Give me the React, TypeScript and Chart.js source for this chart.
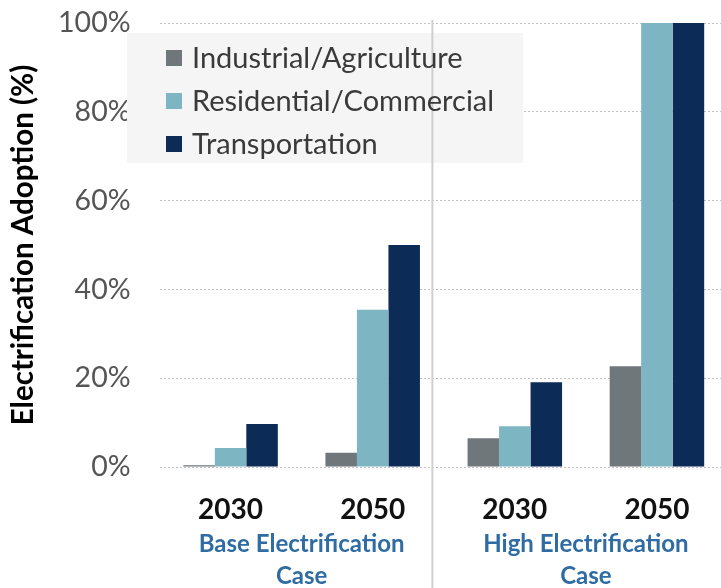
import React, { useEffect, useRef } from "react";
import { Chart, registerables } from "chart.js";

Chart.register(...registerables);

// ---- data ----
const categories = ["2030", "2050", "2030", "2050"];
const groupLabels = [
  ["Base Electrification", "Case"],
  ["High Electrification", "Case"],
];
const seriesNames = ["Industrial/Agriculture", "Residential/Commercial", "Transportation"];
const industrial = [0.4, 3.2, 6.5, 22.7];
const residential = [4.3, 35.4, 9.2, 100];
const transportation = [9.7, 50, 19.1, 100];
const yTickValues = [0, 20, 40, 60, 80, 100];
const separatorAt = 1.42; // category-axis position of the divider between the two cases

const colors = ["#6f777b", "#7db5c2", "#0c2b56"];
const FONT = "Lato, 'Open Sans', sans-serif";

const decorPlugin = {
  id: "decor",
  beforeDatasetsDraw(chart: any) {
    const { ctx, scales } = chart;
    // legend background
    ctx.save();
    ctx.fillStyle = "#f5f5f5";
    ctx.fillRect(127, 33, 396, 130);
    // separator
    const x = scales.x.getPixelForValue(separatorAt);
    ctx.strokeStyle = "#cfcfcf";
    ctx.lineWidth = 2;
    ctx.beginPath();
    ctx.moveTo(x, 20);
    ctx.lineTo(x, chart.height);
    ctx.stroke();
    ctx.restore();
  },
  afterDatasetsDraw(chart: any) {
    const { ctx, scales } = chart;
    ctx.save();
    // legend entries
    ctx.font = `29px ${FONT}`;
    ctx.textBaseline = "middle";
    ctx.textAlign = "left";
    chart.data.datasets.forEach((ds: any, i: number) => {
      const cy = 58 + i * 43;
      ctx.fillStyle = ds.backgroundColor;
      ctx.fillRect(166, cy - 8, 16, 16);
      ctx.fillStyle = "#3a3a3a";
      ctx.fillText(ds.label, 192, cy + 1);
    });
    // group labels
    ctx.font = `bold 24px ${FONT}`;
    ctx.fillStyle = "#2f6ca3";
    ctx.textAlign = "center";
    groupLabels.forEach((lines, g) => {
      const x0 = scales.x.getPixelForValue(g * 2);
      const x1 = scales.x.getPixelForValue(g * 2 + 1);
      const cx = (x0 + x1) / 2;
      lines.forEach((line, j) => {
        ctx.fillText(line, cx, 544 + j * 32);
      });
    });
    ctx.restore();
  },
};

export default function App() {
  const ref = useRef<HTMLCanvasElement | null>(null);
  useEffect(() => {
    if (!ref.current) return;
    const datasets = [industrial, residential, transportation].map((d, i) => ({
      label: seriesNames[i],
      data: d,
      backgroundColor: colors[i],
      borderWidth: 0,
      categoryPercentage: 0.665,
      barPercentage: 1.0,
    }));
    const chart = new Chart(ref.current, {
      type: "bar",
      data: { labels: categories, datasets },
      options: {
        animation: false,
        responsive: false,
        devicePixelRatio: 1,
        layout: { padding: { top: 23, right: 0, left: 0, bottom: 0 } },
        plugins: { legend: { display: false }, tooltip: { enabled: false } },
        scales: {
          x: {
            grid: { display: false, drawTicks: false },
            border: { display: false },
            ticks: {
              color: "#111",
              font: { family: FONT, size: 28, weight: "bold" },
              padding: 26,
            },
            afterFit: (s: any) => {
              s.height = 121;
              s.paddingLeft = 0;
              s.paddingRight = 0;
            },
          },
          y: {
            min: 0,
            max: 100,
            afterBuildTicks: (s: any) => {
              s.ticks = yTickValues.map((v) => ({ value: v }));
            },
            grid: {
              color: "#c2c2c2",
              lineWidth: 1,
              drawTicks: false,
            },
            border: { display: false, dash: [2, 2] },
            ticks: {
              color: "#555",
              font: { family: FONT, size: 28.5 },
              padding: 29,
              callback: (v: any) => `${v}%`,
            },
            title: {
              display: true,
              text: "Electrification Adoption (%)",
              color: "#000",
              font: { family: FONT, size: 29.5, weight: "bold" },
              padding: { top: 6, bottom: 0 },
            },
            afterFit: (s: any) => {
              s.width = 159.5;
              s.paddingTop = 0;
              s.paddingBottom = 0;
            },
          },
        },
      },
      plugins: [decorPlugin],
    });
    return () => chart.destroy();
  }, []);
  return (
    <div style={{ position: "fixed", left: 0, top: 0, width: 730, height: 588, background: "#fff" }}>
      <canvas ref={ref} width={728} height={588} style={{ width: 728, height: 588, display: "block" }} />
    </div>
  );
}
